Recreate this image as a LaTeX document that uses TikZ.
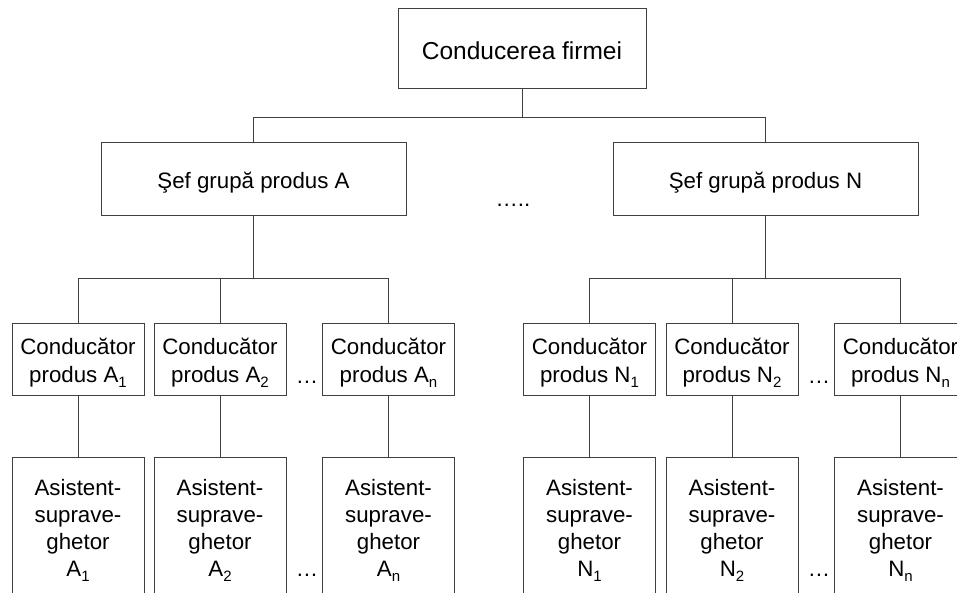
\documentclass[tikz,border=0pt]{standalone}
\usepackage{fontspec}
\setmainfont{Liberation Sans}
\newcommand\subs[1]{\raisebox{-5pt}{\fontsize{15}{15}\selectfont #1}}
\begin{document}
\begin{tikzpicture}[x=1pt,y=-1pt,
  box/.style={draw=black!75, line width=0.9pt, inner sep=0pt, align=center, fill=white},
  lbl/.style={inner sep=0pt, align=center},
  topbox/.style={box, minimum width=248pt, minimum height=80pt,
     label={[lbl, yshift=-3pt, font=\fontsize{24.5}{29}\selectfont]center:#1}},
  sefbox/.style={box, minimum width=305pt, minimum height=73pt,
     label={[lbl, yshift=-4.5pt, font=\fontsize{22.3}{27}\selectfont]center:#1}},
  condbox/.style={box, minimum width=132pt, minimum height=72pt,
     label={[lbl, yshift=-3.5pt, font=\fontsize{22.3}{28}\selectfont]center:#1}},
  asbox/.style={box, minimum width=132pt, minimum height=144pt,
     label={[lbl, yshift=-1pt, font=\fontsize{22.3}{27}\selectfont]center:#1}},
  dotsnode/.style={inner sep=0pt, anchor=base, font=\fontsize{22.3}{27}\selectfont},
  link/.style={draw=black!75, line width=0.9pt}]
\path[use as bounding box] (0,0) rectangle (957,593);
\clip (0,0) rectangle (957,593);
\fill[white] (0,0) rectangle (957,593);
% top
\node[topbox={Conducerea firmei}] (top) at (522,48) {};
\node[sefbox={Şef grupă produs A}] (sefA) at (253.5,178.5) {};
\node[sefbox={Şef grupă produs N}] (sefN) at (765.5,178.5) {};
\node[dotsnode] (dtop) at (513,207) {…..};
% conductor boxes
\node[condbox={Conducător\\produs A\subs{1}}] (cA1) at (78,359) {};
\node[condbox={Conducător\\produs A\subs{2}}] (cA2) at (220,359) {};
\node[condbox={Conducător\\produs A\subs{n}}] (cAn) at (388.5,359) {};
\node[condbox={Conducător\\produs N\subs{1}}] (cN1) at (589.5,359) {};
\node[condbox={Conducător\\produs N\subs{2}}] (cN2) at (732,359) {};
\node[condbox={Conducător\\produs N\subs{n}}] (cNn) at (900.5,359) {};
% asistent boxes
\node[asbox={Asistent-\\suprave-\\ghetor\\A\subs{1}}] (aA1) at (78,529) {};
\node[asbox={Asistent-\\suprave-\\ghetor\\A\subs{2}}] (aA2) at (220,529) {};
\node[asbox={Asistent-\\suprave-\\ghetor\\A\subs{n}}] (aAn) at (388.5,529) {};
\node[asbox={Asistent-\\suprave-\\ghetor\\N\subs{1}}] (aN1) at (589.5,529) {};
\node[asbox={Asistent-\\suprave-\\ghetor\\N\subs{2}}] (aN2) at (732,529) {};
\node[asbox={Asistent-\\suprave-\\ghetor\\N\subs{n}}] (aNn) at (900.5,529) {};
% dots
\node[dotsnode] (dA1) at (307,383) {…};
\node[dotsnode] (dA2) at (307,576) {…};
\node[dotsnode] (dN1) at (819,383) {…};
\node[dotsnode] (dN2) at (819,576) {…};
% connectors
\draw[link] (top.south) -- ++(0,29) coordinate (b0);
\draw[link] (sefA.north) |- (b0) -| (sefN.north);
\draw[link] (sefA.south) -- ++(0,63) coordinate (bA);
\draw[link] (cA1.north) |- (bA) -| (cAn.north);
\draw[link] (cA2.north) -- (cA2.north |- bA);
\draw[link] (sefN.south) -- ++(0,63) coordinate (bN);
\draw[link] (cN1.north) |- (bN) -| (cNn.north);
\draw[link] (cN2.north) -- (cN2.north |- bN);
\draw[link] (cA1.south) -- (aA1.north);
\draw[link] (cA2.south) -- (aA2.north);
\draw[link] (cAn.south) -- (aAn.north);
\draw[link] (cN1.south) -- (aN1.north);
\draw[link] (cN2.south) -- (aN2.north);
\draw[link] (cNn.south) -- (aNn.north);
\end{tikzpicture}
\end{document}
